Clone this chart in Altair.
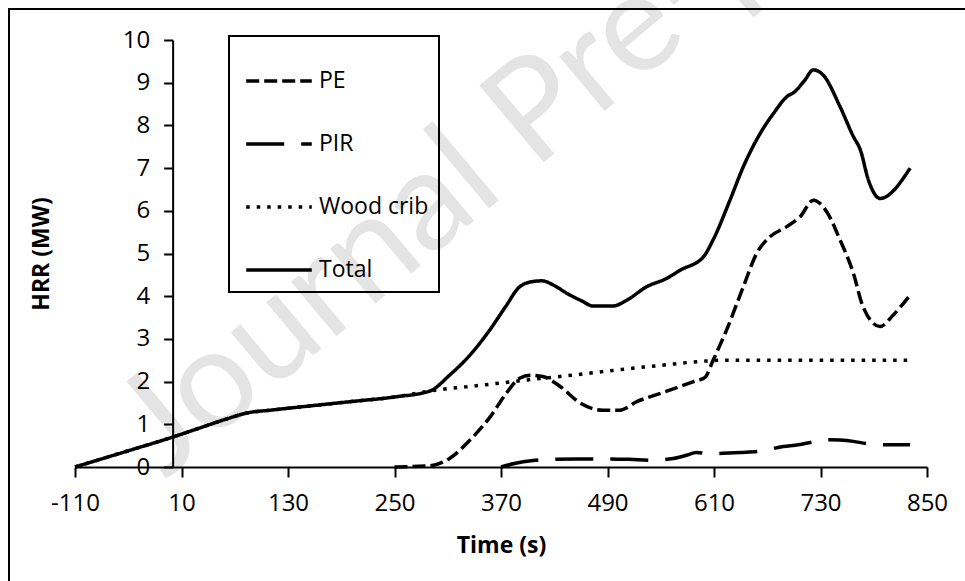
import altair as alt
import pandas as pd

# ---------------- data ----------------
total_t = [-110, -50, 0, 30, 60, 85, 110, 150, 200, 250, 290, 312, 335, 357, 375, 391, 405, 416, 430, 444,
           460, 474, 496, 512, 534, 557, 572, 598, 609, 628, 643, 662, 677, 692, 701, 712, 722, 733, 752,
           767, 775, 784, 797, 831]
total_v = [0.00, 0.38, 0.70, 0.91, 1.12, 1.27, 1.33, 1.42, 1.53, 1.64, 1.78, 2.15, 2.62, 3.20, 3.75, 4.22, 4.34,
           4.36, 4.25, 4.07, 3.90, 3.77, 3.77, 3.91, 4.22, 4.42, 4.61, 4.92, 5.32, 6.25, 7.03, 7.81, 8.28, 8.67,
           8.79, 9.05, 9.30, 9.18, 8.44, 7.74, 7.42, 6.72, 6.29, 7.00]

pe_t = [250, 290, 312, 335, 358, 376, 391, 403, 417, 437, 459, 485, 504, 523, 549, 587, 600, 609, 624, 643,
        658, 673, 692, 707, 722, 737, 752, 767, 778, 797, 812, 831]
pe_v = [0.00, 0.03, 0.20, 0.63, 1.18, 1.73, 2.08, 2.15, 2.12, 1.88, 1.50, 1.33, 1.33, 1.53, 1.72, 2.00, 2.10,
        2.50, 3.20, 4.22, 5.00, 5.39, 5.63, 5.86, 6.25, 5.98, 5.32, 4.54, 3.75, 3.29, 3.56, 4.03]

pir_t = [370, 385, 406, 430, 455, 490, 515, 538, 564, 580, 590, 605, 620, 640, 662, 688, 705, 722, 740, 752,
         767, 782, 808, 831]
pir_v = [0.00, 0.08, 0.15, 0.18, 0.19, 0.19, 0.18, 0.16, 0.20, 0.28, 0.34, 0.31, 0.32, 0.34, 0.37, 0.48, 0.52,
         0.59, 0.64, 0.63, 0.60, 0.55, 0.52, 0.52]

wood_t = [-110, -50, 0, 30, 60, 85, 110, 150, 200, 250, 290, 350, 400, 450, 500, 550, 600, 620, 700, 831]
wood_v = [0.00, 0.38, 0.70, 0.91, 1.12, 1.27, 1.33, 1.42, 1.53, 1.64, 1.78, 1.92, 2.04, 2.15, 2.27, 2.38, 2.48,
          2.50, 2.50, 2.50]

series_names = ["PE", "PIR", "Wood crib", "Total"]
x_ticks = [-110, 10, 130, 250, 370, 490, 610, 730, 850]
y_ticks = [0, 1, 2, 3, 4, 5, 6, 7, 8, 9, 10]
watermark = ["Journal Pre-proof"]

# ---------------- build table ----------------
rows = []
for name, ts, vs in [("PE", pe_t, pe_v), ("PIR", pir_t, pir_v),
                     ("Wood crib", wood_t, wood_v), ("Total", total_t, total_v)]:
    for t, v in zip(ts, vs):
        rows.append({"series": name, "time": t, "hrr": v})
df = pd.DataFrame(rows)

# ---------------- layout / style ----------------
FONT = "Open Sans"
W, H = 852, 427
PAD_L, PAD_T = 75, 40
X_MIN, X_MAX = x_ticks[0], x_ticks[-1]
y_axis_offset = -(0 - X_MIN) / (X_MAX - X_MIN) * W   # y axis crosses at time = 0

dash_range = [[13, 5], [38, 17], [3.5, 7], [1, 0]]

x_enc = alt.X(
    "time:Q",
    scale=alt.Scale(domain=[X_MIN, X_MAX], nice=False, zero=False),
    axis=alt.Axis(values=x_ticks, title="Time (s)", grid=False, zindex=1,
                  labelExpr="'' + datum.value",
                  domainColor="black", domainWidth=2, tickColor="black", tickWidth=2, tickSize=10,
                  labelFont=FONT, labelFontSize=24, labelColor="black", labelPadding=14,
                  labelFlush=False, labelOverlap=False,
                  titleFont=FONT, titleFontSize=23, titleFontWeight="bold", titleColor="black",
                  titlePadding=19),
)
y_enc = alt.Y(
    "hrr:Q",
    scale=alt.Scale(domain=[0, 10], nice=False),
    axis=alt.Axis(values=y_ticks, title="HRR (MW)", grid=False, offset=y_axis_offset, zindex=1,
                  domainColor="black", domainWidth=2, tickColor="black", tickWidth=2, tickSize=9,
                  labelFont=FONT, labelFontSize=24, labelColor="black", labelPadding=14,
                  labelFlush=False, labelOverlap=False,
                  titleFont=FONT, titleFontSize=23, titleFontWeight="bold", titleColor="black",
                  titleX=-131, titleBaseline="middle"),
)

lines = alt.Chart(df).mark_line(
    color="black", strokeWidth=3.5, strokeJoin="round",
    interpolate="monotone", clip=False,
).encode(
    x=x_enc,
    y=y_enc,
    strokeDash=alt.StrokeDash(
        "series:N",
        scale=alt.Scale(domain=series_names, range=dash_range),
        sort=series_names,
        legend=alt.Legend(
            orient="none", legendX=154, legendY=-4, title=None,
            symbolType="stroke", symbolSize=4300, symbolStrokeWidth=3.5, symbolStrokeColor="black",
            symbolOffset=5,
            labelFont=FONT, labelFontSize=23, labelColor="black", labelOffset=5,
            padding=10, rowPadding=16, strokeColor="black",
        ),
    ),
    order=alt.Order("series:N"),
)

frame = alt.Chart(pd.DataFrame({"k": [0]})).mark_rect(
    fill="white", fillOpacity=0, stroke="black", strokeWidth=2, clip=False
).encode(
    x=alt.value(9 - PAD_L), y=alt.value(9 - PAD_T),
    x2=alt.value(1100), y2=alt.value(800),
)

wm = alt.Chart(pd.DataFrame({"text": watermark})).mark_text(
    font="Lato", fontSize=140, color="#e4e4e4", angle=320, align="left", baseline="alphabetic", clip=False
).encode(
    text="text:N",
    x=alt.value(165 - PAD_L), y=alt.value(480 - PAD_T),
)

chart = alt.layer(wm, frame, lines).properties(
    width=W, height=H,
    autosize=alt.AutoSizeParams(type="none"),
    padding={"left": PAD_L, "top": PAD_T, "right": 965 - PAD_L - W, "bottom": 581 - PAD_T - H},
    background="white",
).configure_view(stroke=None).configure_legend(strokeWidth=2)

chart.save("out.html", embed_options={"renderer": "svg", "actions": False})
